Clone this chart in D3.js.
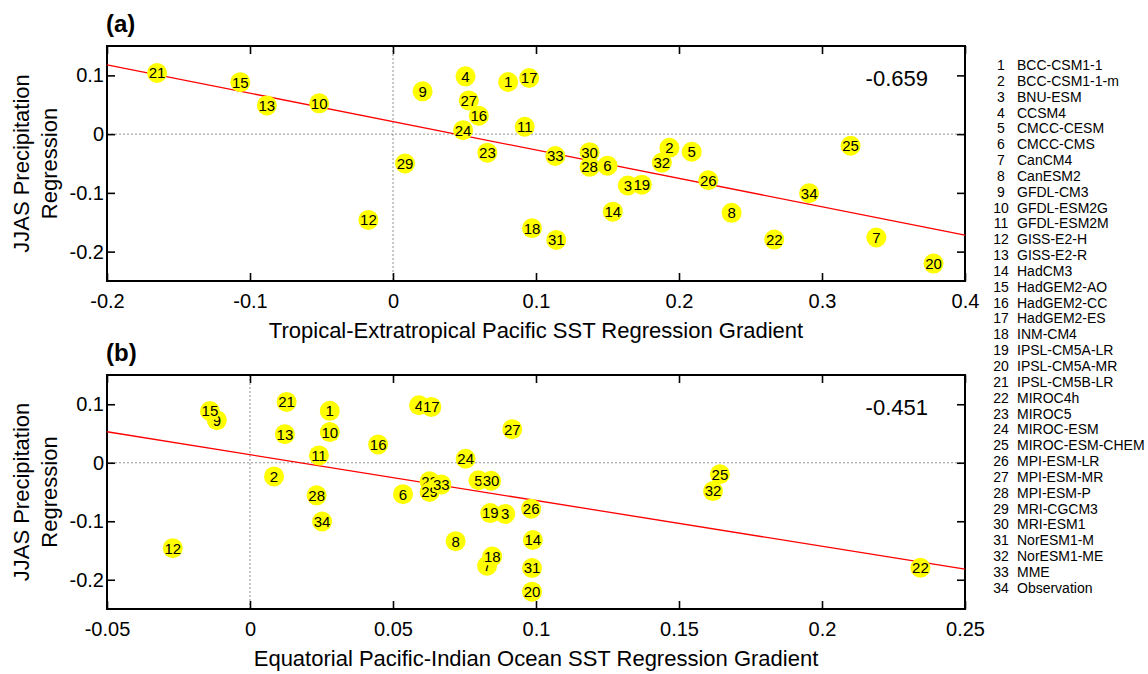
<!DOCTYPE html>
<html>
<head>
<meta charset="utf-8">
<script src="https://cdn.jsdelivr.net/npm/d3@7"></script>
<style>
  body { margin: 0; background: #fff; }
  svg { display: block; font-family: "Liberation Sans", Arial, sans-serif; }
</style>
</head>
<body>
<div id="chart"></div>
<script>
// model names, numbered 1..34 in this order
const models = [
  "BCC-CSM1-1", "BCC-CSM1-1-m", "BNU-ESM", "CCSM4", "CMCC-CESM", "CMCC-CMS",
  "CanCM4", "CanESM2", "GFDL-CM3", "GFDL-ESM2G", "GFDL-ESM2M", "GISS-E2-H",
  "GISS-E2-R", "HadCM3", "HadGEM2-AO", "HadGEM2-CC", "HadGEM2-ES", "INM-CM4",
  "IPSL-CM5A-LR", "IPSL-CM5A-MR", "IPSL-CM5B-LR", "MIROC4h", "MIROC5", "MIROC-ESM",
  "MIROC-ESM-CHEM", "MPI-ESM-LR", "MPI-ESM-MR", "MPI-ESM-P", "MRI-CGCM3", "MRI-ESM1",
  "NorESM1-M", "NorESM1-ME", "MME", "Observation"
];

// JJAS precipitation regression (same y for both panels)
const precipReg = [
  0.0887, -0.0234, -0.0875, 0.0983, -0.0300, -0.0537, -0.1760, -0.1340, 0.0728, 0.0524,
  0.0126, -0.1460, 0.0489, -0.1320, 0.0884, 0.0312, 0.0955, -0.1602, -0.0860, -0.2204,
  0.1040, -0.1795, -0.0316, 0.0068, -0.0197, -0.0785, 0.0574, -0.0557, -0.0500, -0.0307,
  -0.1800, -0.0484, -0.0372, -0.1005
];

// (a) tropical-extratropical Pacific SST regression gradient
const gradTropExtra = [
  0.0805, 0.1933, 0.1642, 0.0507, 0.2089, 0.1500, 0.3380, 0.2368, 0.0207, -0.0516,
  0.0921, -0.0172, -0.0882, 0.1537, -0.1068, 0.0600, 0.0952, 0.0972, 0.1740, 0.3780,
  -0.1650, 0.2666, 0.0660, 0.0490, 0.3200, 0.2205, 0.0530, 0.1375, 0.0084, 0.1375,
  0.1142, 0.1880, 0.1135, 0.2910
];

// (b) equatorial Pacific-Indian Ocean SST regression gradient
const gradPacInd = [
  0.0279, 0.0084, 0.0892, 0.0591, 0.0799, 0.0535, 0.0829, 0.0719, -0.0116, 0.0279,
  0.0241, -0.0270, 0.0122, 0.0989, -0.0140, 0.0448, 0.0634, 0.0847, 0.0840, 0.0986,
  0.0128, 0.2344, 0.0628, 0.0754, 0.1643, 0.0983, 0.0917, 0.0233, 0.0628, 0.0843,
  0.0986, 0.1619, 0.0669, 0.0252
];

// regression lines, endpoints [x, y]
const fitA = [[-0.2, 0.118], [0.4, -0.172]];
const fitB = [[-0.05, 0.053], [0.25, -0.182]];
const corrA = "-0.659";
const corrB = "-0.451";

const xDomainA = [-0.2, 0.4];
const xTicksA = [-0.2, -0.1, 0, 0.1, 0.2, 0.3, 0.4];
const xDomainB = [-0.05, 0.25];
const xTicksB = [-0.05, 0, 0.05, 0.1, 0.15, 0.2, 0.25];
const yDomain = [-0.25, 0.15];
const yTicks = [-0.2, -0.1, 0, 0.1];

const width = 1148, height = 674;
const left = 107, right = 965;

const svg = d3.select("#chart")
  .append("svg")
  .attr("width", width)
  .attr("height", height);

svg.append("rect").attr("width", width).attr("height", height).attr("fill", "#fff");

const panels = [
  { tag: "(a)", top: 46, bottom: 281, xs: gradTropExtra, xDomain: xDomainA, xTicks: xTicksA,
    fit: fitA, corr: corrA, xTitle: "Tropical-Extratropical Pacific SST Regression Gradient" },
  { tag: "(b)", top: 375, bottom: 609, xs: gradPacInd, xDomain: xDomainB, xTicks: xTicksB,
    fit: fitB, corr: corrB, xTitle: "Equatorial Pacific-Indian Ocean SST Regression Gradient" }
];

const fmt = d => String(d);

function styleAxis(sel, fontSize) {
  sel.select(".domain").remove();
  sel.selectAll(".tick line").attr("stroke", "#000").attr("stroke-width", 1.6);
  sel.selectAll(".tick text")
    .attr("fill", "#000")
    .style("font-size", fontSize + "px")
    .style("font-family", "'Liberation Sans', Arial, sans-serif");
}

panels.forEach(p => {
  const x = d3.scaleLinear().domain(p.xDomain).range([left, right]);
  const y = d3.scaleLinear().domain(yDomain).range([p.bottom, p.top]);
  const g = svg.append("g");

  // dotted zero lines
  g.append("line")
    .attr("x1", x(0)).attr("x2", x(0))
    .attr("y1", p.top).attr("y2", p.bottom)
    .attr("stroke", "#777").attr("stroke-width", 0.8).attr("stroke-dasharray", "2,2");
  g.append("line")
    .attr("x1", left).attr("x2", right)
    .attr("y1", y(0)).attr("y2", y(0))
    .attr("stroke", "#777").attr("stroke-width", 0.8).attr("stroke-dasharray", "2,2");

  // axes, ticks pointing inward
  g.append("g")
    .attr("transform", `translate(0,${p.bottom})`)
    .call(d3.axisBottom(x).tickValues(p.xTicks).tickSize(-8).tickPadding(13).tickFormat(fmt))
    .call(s => styleAxis(s, 20));
  g.append("g")
    .attr("transform", `translate(0,${p.top})`)
    .call(d3.axisTop(x).tickValues(p.xTicks).tickSize(-8).tickFormat(""))
    .call(s => styleAxis(s, 20));
  g.append("g")
    .attr("transform", `translate(${left},0)`)
    .call(d3.axisLeft(y).tickValues(yTicks).tickSize(-8).tickPadding(3).tickFormat(fmt))
    .call(s => styleAxis(s, 20));
  g.append("g")
    .attr("transform", `translate(${right},0)`)
    .call(d3.axisRight(y).tickValues(yTicks).tickSize(-8).tickFormat(""))
    .call(s => styleAxis(s, 20));

  // frame
  g.append("rect")
    .attr("x", left).attr("y", p.top)
    .attr("width", right - left).attr("height", p.bottom - p.top)
    .attr("fill", "none").attr("stroke", "#000").attr("stroke-width", 2);

  // regression line
  g.append("line")
    .attr("x1", x(p.fit[0][0])).attr("y1", y(p.fit[0][1]))
    .attr("x2", x(p.fit[1][0])).attr("y2", y(p.fit[1][1]))
    .attr("stroke", "#ff0000").attr("stroke-width", 1.3);

  // numbered points, drawn in model order
  const pts = g.selectAll(".pt")
    .data(p.xs.map((v, i) => ({ id: i + 1, x: v, y: precipReg[i] })))
    .enter()
    .append("g")
    .attr("class", "pt")
    .attr("transform", d => `translate(${x(d.x)},${y(d.y)})`);

  pts.append("circle").attr("r", 10).attr("fill", "#ffff00");
  pts.append("text")
    .attr("text-anchor", "middle")
    .attr("dy", "0.36em")
    .style("font-size", "15px")
    .attr("fill", "#000")
    .text(d => d.id);

  // correlation
  g.append("text")
    .attr("x", right - 37).attr("y", p.top + 40)
    .attr("text-anchor", "end")
    .style("font-size", "22px")
    .text(p.corr);

  // panel tag
  g.append("text")
    .attr("x", 106).attr("y", p.top - 14)
    .style("font-size", "24px").style("font-weight", "bold")
    .text(p.tag);

  // axis titles
  g.append("text")
    .attr("x", (left + right) / 2).attr("y", p.bottom + 57)
    .attr("text-anchor", "middle")
    .style("font-size", "22px")
    .text(p.xTitle);

  const mid = (p.top + p.bottom) / 2;
  g.append("text")
    .attr("transform", `translate(29,${mid}) rotate(-90)`)
    .attr("text-anchor", "middle")
    .style("font-size", "22px")
    .text("JJAS Precipitation");
  g.append("text")
    .attr("transform", `translate(57,${mid}) rotate(-90)`)
    .attr("text-anchor", "middle")
    .style("font-size", "22px")
    .text("Regression");
});

// model list on the right
const legend = svg.append("g").attr("transform", "translate(0,65)");
const rows = legend.selectAll(".row")
  .data(models)
  .enter()
  .append("g")
  .attr("class", "row")
  .attr("transform", (d, i) => `translate(0,${i * 15.84})`);

rows.append("text")
  .attr("x", 1001)
  .attr("dy", "0.36em")
  .attr("text-anchor", "middle")
  .style("font-size", "14px")
  .text((d, i) => i + 1);

rows.append("text")
  .attr("x", 1017)
  .attr("dy", "0.36em")
  .style("font-size", "14px")
  .text(d => d);
</script>
</body>
</html>
